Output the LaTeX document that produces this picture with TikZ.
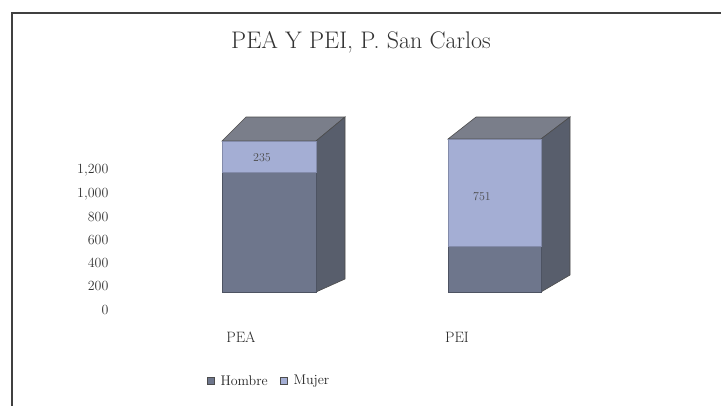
\documentclass[tikz,border=0pt]{standalone}
\begin{document}
\begin{tikzpicture}[x=1pt,y=-1pt,
  frameline/.style={line width=1.6pt,draw=black!75},
  axislbl/.style={anchor=east,font=\fontsize{14}{16}\selectfont,text=black!80},
  catlbl/.style={font=\fontsize{15}{17}\selectfont,text=black!85},
  hombre/.style={fill=hcol,draw=hcol!70!black,line width=0.4pt},
  mujer/.style={fill=mcol,draw=mcol!80!black,line width=0.4pt},
  sideface/.style={fill=scol,draw=black!70,line width=0.6pt},
  topface/.style={fill=tcol,draw=black!70,line width=0.6pt},
  vallbl/.style={font=\fontsize{12}{13}\selectfont,text=black!70},
  legtxt/.style={anchor=west,font=\fontsize{14}{16}\selectfont,text=black!85},
  legmark/.style={minimum size=7pt,inner sep=0pt,draw=black!70}]
\definecolor{hcol}{RGB}{110,118,140}
\definecolor{mcol}{RGB}{164,174,212}
\definecolor{scol}{RGB}{88,94,108}
\definecolor{tcol}{RGB}{122,126,138}
\useasboundingbox (0,0) rectangle (721,405);
\fill[white] (0,0) rectangle (721,405);
% frame
\draw[frameline] (12,406) -- (12,13) -- (722,13);
% title
\node[font=\fontsize{24}{28}\selectfont,text=black!80] (title) at (361,42) {PEA Y PEI, P. San Carlos};
% y axis labels
\node[axislbl] (y1200) at (112,170) {1,200};
\node[axislbl] (y1000) at (112,194) {1,000};
\node[axislbl] (y800) at (112,217) {800};
\node[axislbl] (y600) at (112,240) {600};
\node[axislbl] (y400) at (112,263) {400};
\node[axislbl] (y200) at (112,286) {200};
\node[axislbl] (y0) at (112,310) {0};
% PEA bar
\draw[topface] (222,141) -- (246,117) -- (345,117) -- (316,141) -- cycle;
\draw[sideface] (316,141) -- (345,117) -- (345,279) -- (316,292) -- cycle;
\draw[hombre] (222,172) rectangle (316,292);
\draw[mujer] (222,141) rectangle (316,172);
\node[vallbl] (v235) at (262,158) {235};
% PEI bar
\draw[topface] (448,139) -- (476,117) -- (570,117) -- (541,139) -- cycle;
\draw[sideface] (541,139) -- (570,117) -- (570,275) -- (541,292) -- cycle;
\draw[hombre] (448,246) rectangle (541,292);
\draw[mujer] (448,139) rectangle (541,246);
\node[vallbl] (v751) at (482,197) {751};
% categories
\node[catlbl] (cPEA) at (241,337) {PEA};
\node[catlbl] (cPEI) at (457,337) {PEI};
% legend
\node[legmark,fill=hcol] (mH) at (211,381) {};
\node[legtxt] (lH) at (217,381) {Hombre};
\node[legmark,fill=mcol] (mM) at (284,381) {};
\node[legtxt] (lM) at (290,381) {Mujer};
\end{tikzpicture}
\end{document}
